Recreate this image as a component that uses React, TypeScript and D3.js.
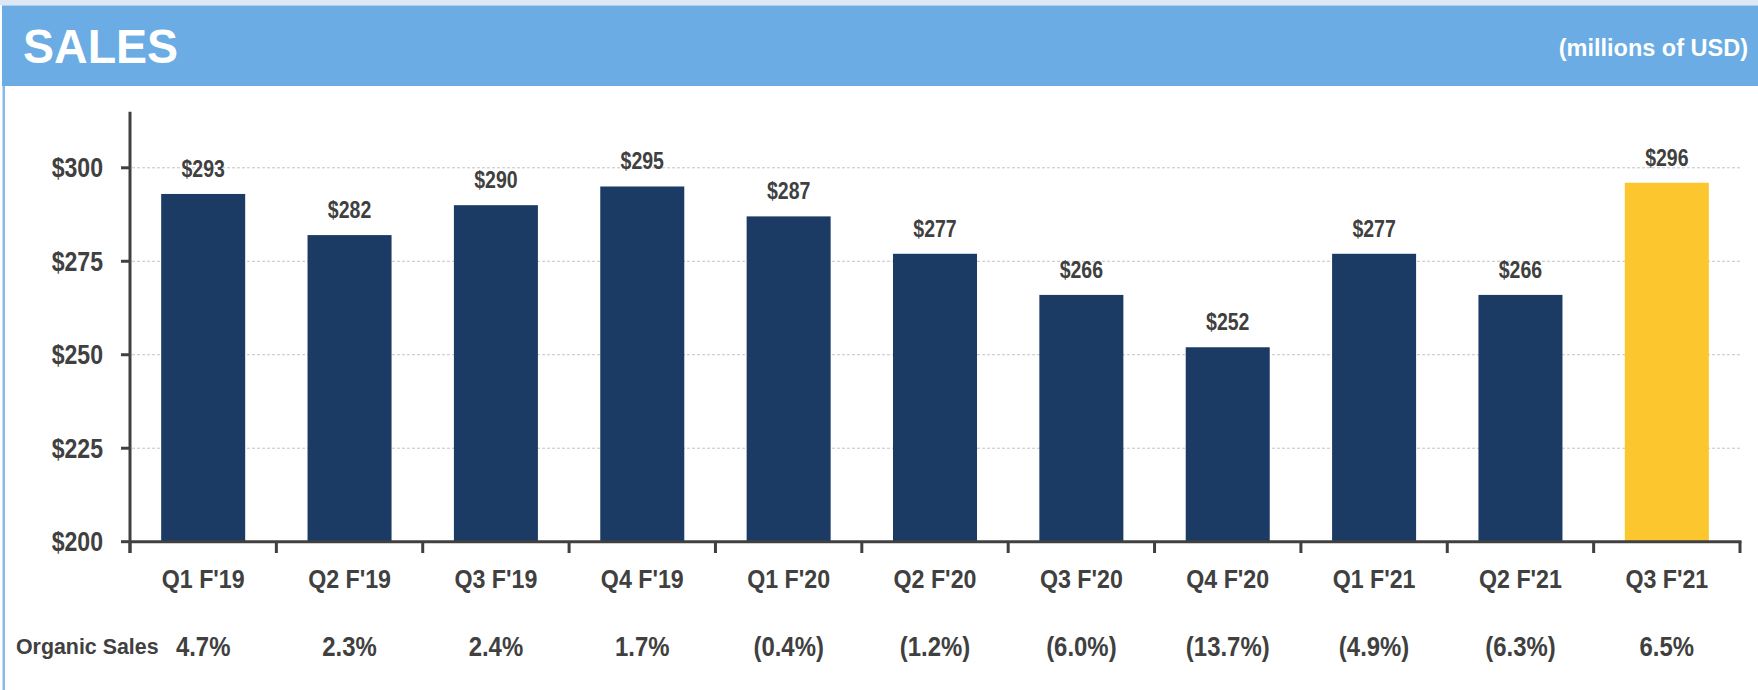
import React from "react";
import * as d3 from "d3";

const categories = ["Q1 F'19", "Q2 F'19", "Q3 F'19", "Q4 F'19", "Q1 F'20", "Q2 F'20", "Q3 F'20", "Q4 F'20", "Q1 F'21", "Q2 F'21", "Q3 F'21"];
const sales = [293, 282, 290, 295, 287, 277, 266, 252, 277, 266, 296];
const organicSales = ["4.7%", "2.3%", "2.4%", "1.7%", "(0.4%)", "(1.2%)", "(6.0%)", "(13.7%)", "(4.9%)", "(6.3%)", "6.5%"];
const yTicks = [200, 225, 250, 275, 300];
const highlighted = ["Q3 F'21"];

const W = 1758;
const H = 690;
const FONT = "'Liberation Sans', Arial, Helvetica, sans-serif";
const TEXT = "#404040";
const AXIS = "#404040";
const NAVY = "#1B3A64";
const GOLD = "#FCC62E";

function T(props: { x: number; y: number; sx?: number; size: number; anchor?: string; fill?: string; children: React.ReactNode }) {
  const { x, y, sx = 1, size, anchor = "middle", fill = TEXT, children } = props;
  return (
    <text
      transform={`translate(${x},${y}) scale(${sx},1)`}
      textAnchor={anchor as any}
      fontFamily={FONT}
      fontWeight="bold"
      fontSize={size}
      fill={fill}
    >
      {children}
    </text>
  );
}

export default function App() {
  const x = d3.scaleBand<string>().domain(categories).range([130, 1740]).paddingInner(0.426).paddingOuter(0.213);
  const y = d3.scaleLinear().domain([200, 315]).range([541.7, 111.7]);
  const step = x.step();
  const boundaries = d3.range(categories.length + 1).map((i) => 130 + i * step);
  const y0 = y(200);

  return (
    <svg width={W} height={H} style={{ position: "absolute", left: 0, top: 0, background: "#fff" }}>
      <rect x={0} y={0} width={W} height={H} fill="#ffffff" />
      <rect x={0} y={0} width={W} height={5.5} fill="#DCE8F4" />
      <rect x={2} y={5.5} width={W - 2} height={80.5} fill="#6AACE3" />
      <rect x={2.5} y={86} width={2.5} height={H - 86} fill="#86BBEA" />
      <T x={23} y={63} size={48} sx={0.97} anchor="start" fill="#ffffff">SALES</T>
      <T x={1748} y={56} size={23.5} anchor="end" fill="#ffffff">(millions of USD)</T>

      {yTicks.filter((t) => t > 200).map((t) => (
        <line key={"g" + t} x1={132} x2={1740} y1={y(t)} y2={y(t)} stroke="#C4C4C4" strokeWidth={1} strokeDasharray="3,2" />
      ))}

      {categories.map((c, i) => (
        <rect
          key={c}
          x={x(c)!}
          y={y(sales[i])}
          width={x.bandwidth()}
          height={y0 - y(sales[i])}
          fill={highlighted.includes(c) ? GOLD : NAVY}
        />
      ))}

      {categories.map((c, i) => (
        <T key={"v" + c} x={x(c)! + x.bandwidth() / 2} y={y(sales[i]) - 17} size={23.5} sx={0.83}>
          {"$" + sales[i]}
        </T>
      ))}

      <line x1={130} x2={130} y1={111.7} y2={553} stroke={AXIS} strokeWidth={3} />
      {yTicks.map((t) => (
        <g key={"t" + t}>
          <line x1={121} x2={130} y1={y(t)} y2={y(t)} stroke={AXIS} strokeWidth={3} />
          <T x={103} y={y(t) + 9.5} size={27.5} sx={0.84} anchor="end">{"$" + t}</T>
        </g>
      ))}

      <line x1={130} x2={1741.5} y1={y0} y2={y0} stroke={AXIS} strokeWidth={3} />
      {boundaries.map((b, i) => (
        <line key={"b" + i} x1={b} x2={b} y1={y0} y2={553} stroke={AXIS} strokeWidth={3} />
      ))}
      {categories.map((c) => (
        <T key={"c" + c} x={x(c)! + x.bandwidth() / 2} y={588} size={25.5} sx={0.91}>
          {c}
        </T>
      ))}

      <T x={16} y={654} size={22.5} sx={0.95} anchor="start">Organic Sales</T>
      {categories.map((c, i) => (
        <T key={"o" + c} x={x(c)! + x.bandwidth() / 2} y={656} size={28.5} sx={0.84}>
          {organicSales[i]}
        </T>
      ))}
    </svg>
  );
}
